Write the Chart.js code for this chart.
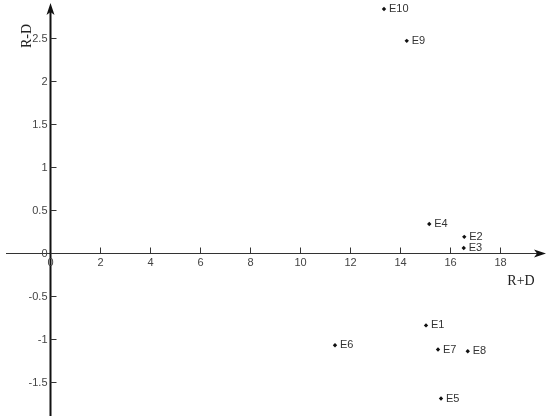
<!DOCTYPE html>
<html>
<head>
<meta charset="utf-8">
<script src="https://cdn.jsdelivr.net/npm/chart.js@4.4.1/dist/chart.umd.min.js"></script>
<style>
  html, body { margin: 0; padding: 0; background: #fff; }
  #wrap { width: 550px; height: 420px; position: relative; }
</style>
</head>
<body>
<div id="wrap"><canvas id="chart"></canvas></div>
<script>
// point names and coordinates (R+D, R-D)
const names = ['E1', 'E2', 'E3', 'E4', 'E5', 'E6', 'E7', 'E8', 'E9', 'E10'];
const rPlusD = [15.04, 16.57, 16.55, 15.17, 15.64, 11.40, 15.52, 16.71, 14.27, 13.36];
const rMinusD = [-0.84, 0.19, 0.06, 0.34, -1.69, -1.07, -1.12, -1.14, 2.47, 2.84];

// tick labels along the two axes
const xTicks = [0, 2, 4, 6, 8, 10, 12, 14, 16, 18];
const yTicks = [-1.5, -1, -0.5, 0, 0.5, 1, 1.5, 2, 2.5];

const points = names.map((n, i) => ({ x: rPlusD[i], y: rMinusD[i], name: n }));

// draws the crossing axes with arrows, ticks and the point names
const crossAxes = {
    id: 'crossAxes',
    afterDatasetsDraw(chart) {
        const ctx = chart.ctx;
        const xs = chart.scales.x, ys = chart.scales.y;
        const x0 = Math.round(xs.getPixelForValue(0)) + 0.5;
        const y0 = Math.round(ys.getPixelForValue(0)) + 0.5;
        const left = chart.chartArea.left, right = chart.chartArea.right;
        const top = chart.chartArea.top, bottom = chart.chartArea.bottom;

        ctx.save();
        // horizontal axis
        ctx.strokeStyle = '#333';
        ctx.lineWidth = 1;
        ctx.beginPath();
        ctx.moveTo(left + 6, y0);
        ctx.lineTo(right - 10, y0);
        ctx.stroke();
        // vertical axis
        ctx.strokeStyle = '#111';
        ctx.lineWidth = 2;
        ctx.beginPath();
        ctx.moveTo(x0, bottom - 4);
        ctx.lineTo(x0, top + 10);
        ctx.stroke();

        // arrow heads
        ctx.fillStyle = '#111';
        ctx.beginPath();
        ctx.moveTo(x0, top + 3);
        ctx.lineTo(x0 - 4, top + 15);
        ctx.lineTo(x0, top + 12);
        ctx.lineTo(x0 + 4, top + 15);
        ctx.closePath();
        ctx.fill();
        ctx.beginPath();
        ctx.moveTo(right - 4, y0);
        ctx.lineTo(right - 16, y0 - 4);
        ctx.lineTo(right - 13, y0);
        ctx.lineTo(right - 16, y0 + 4);
        ctx.closePath();
        ctx.fill();

        // x ticks (marks above the axis, labels below)
        ctx.strokeStyle = '#333';
        ctx.lineWidth = 1;
        ctx.fillStyle = '#444';
        ctx.font = '11px "Liberation Sans", Arial, sans-serif';
        ctx.textAlign = 'center';
        ctx.textBaseline = 'top';
        xTicks.forEach(v => {
            const px = Math.round(xs.getPixelForValue(v)) + 0.5;
            if (v !== 0) {
                ctx.beginPath();
                ctx.moveTo(px, y0);
                ctx.lineTo(px, y0 - 6);
                ctx.stroke();
            }
            ctx.fillText(String(v), px, y0 + 4);
        });

        // y ticks (marks right of the axis, labels left)
        ctx.textAlign = 'right';
        ctx.textBaseline = 'middle';
        yTicks.forEach(v => {
            const py = Math.round(ys.getPixelForValue(v)) + 0.5;
            ctx.beginPath();
            ctx.moveTo(x0, py);
            ctx.lineTo(x0 + 6, py);
            ctx.stroke();
            ctx.fillText(String(v), x0 - 3, py);
        });

        // axis titles
        ctx.fillStyle = '#222';
        ctx.font = '14px "Liberation Serif", "Times New Roman", serif';
        ctx.textAlign = 'center';
        ctx.textBaseline = 'middle';
        ctx.fillText('R+D', 521, y0 + 28);
        ctx.save();
        ctx.translate(27, 36);
        ctx.rotate(-Math.PI / 2);
        ctx.fillText('R-D', 0, 0);
        ctx.restore();

        // point names
        const meta = chart.getDatasetMeta(0);
        ctx.fillStyle = '#333';
        ctx.font = '11px "Liberation Sans", Arial, sans-serif';
        ctx.textAlign = 'left';
        meta.data.forEach((el, i) => {
            ctx.fillText(points[i].name, el.x + 5, el.y);
        });
        ctx.restore();
    }
};

new Chart(document.getElementById('chart'), {
    type: 'scatter',
    data: {
        datasets: [{
            data: points,
            pointStyle: 'rectRot',
            pointRadius: 2.2,
            backgroundColor: '#111',
            borderColor: '#111',
            borderWidth: 0
        }]
    },
    options: {
        responsive: true,
        maintainAspectRatio: false,
        animation: false,
        layout: { padding: 0, autoPadding: false },
        plugins: {
            legend: { display: false },
            tooltip: { enabled: false }
        },
        scales: {
            x: { type: 'linear', min: -2, max: 20, display: false },
            y: { type: 'linear', min: -1.94, max: 2.945, display: false }
        }
    },
    plugins: [crossAxes]
});
</script>
</body>
</html>
